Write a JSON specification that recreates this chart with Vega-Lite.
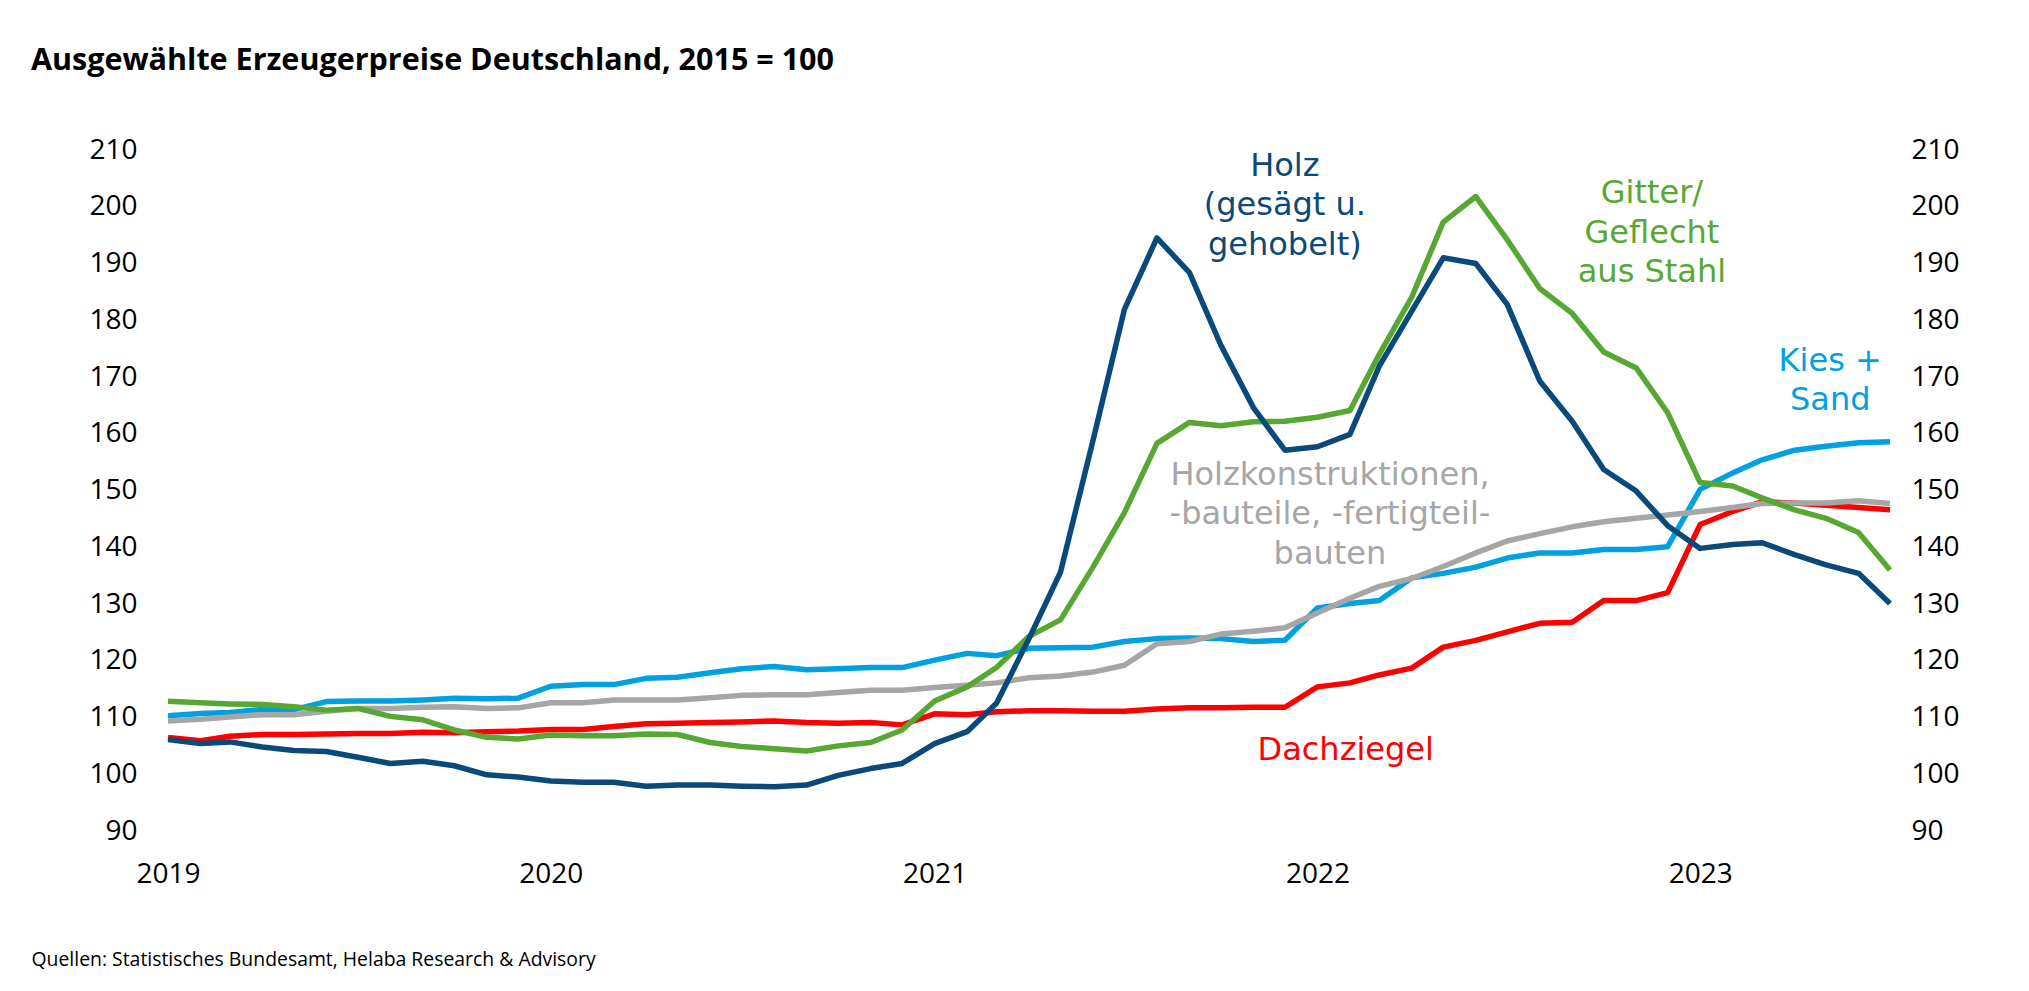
{
  "$schema": "https://vega.github.io/schema/vega-lite/v6.json",
  "autosize": {"type": "none"},
  "width": 1722,
  "height": 681,
  "padding": {"left": 168, "top": 150, "right": 139, "bottom": 160},
  "background": "white",
  "config": {"view": {"stroke": null}},
  "title": {
    "text": "Ausgewählte Erzeugerpreise Deutschland, 2015 = 100",
    "anchor": "start",
    "frame": "group",
    "dx": -137,
    "offset": 60,
    "font": "Open Sans",
    "fontSize": 30.5,
    "fontWeight": "bold",
    "color": "#000000"
  },
  "datasets": {
    "prices": [
      {"date": "2019-01-01", "Dachziegel": 106.5, "Kies": 110.3, "Holzkonstruktionen": 109.4, "Gitter": 112.85, "Holz": 106.1},
      {"date": "2019-02-01", "Dachziegel": 105.9, "Kies": 110.7, "Holzkonstruktionen": 109.7, "Gitter": 112.6, "Holz": 105.4},
      {"date": "2019-03-01", "Dachziegel": 106.7, "Kies": 110.9, "Holzkonstruktionen": 110.1, "Gitter": 112.4, "Holz": 105.7},
      {"date": "2019-04-01", "Dachziegel": 107.0, "Kies": 111.4, "Holzkonstruktionen": 110.5, "Gitter": 112.3, "Holz": 104.8},
      {"date": "2019-05-01", "Dachziegel": 107.0, "Kies": 111.4, "Holzkonstruktionen": 110.5, "Gitter": 111.9, "Holz": 104.2},
      {"date": "2019-06-01", "Dachziegel": 107.1, "Kies": 112.8, "Holzkonstruktionen": 111.1, "Gitter": 111.3, "Holz": 104.0},
      {"date": "2019-07-01", "Dachziegel": 107.2, "Kies": 112.9, "Holzkonstruktionen": 111.6, "Gitter": 111.6, "Holz": 103.0},
      {"date": "2019-08-01", "Dachziegel": 107.2, "Kies": 112.9, "Holzkonstruktionen": 111.6, "Gitter": 110.2, "Holz": 101.9},
      {"date": "2019-09-01", "Dachziegel": 107.4, "Kies": 113.1, "Holzkonstruktionen": 111.8, "Gitter": 109.6, "Holz": 102.3},
      {"date": "2019-10-01", "Dachziegel": 107.3, "Kies": 113.4, "Holzkonstruktionen": 111.9, "Gitter": 107.8, "Holz": 101.5},
      {"date": "2019-11-01", "Dachziegel": 107.5, "Kies": 113.3, "Holzkonstruktionen": 111.6, "Gitter": 106.5, "Holz": 99.9},
      {"date": "2019-12-01", "Dachziegel": 107.6, "Kies": 113.4, "Holzkonstruktionen": 111.7, "Gitter": 106.2, "Holz": 99.5},
      {"date": "2020-01-01", "Dachziegel": 107.9, "Kies": 115.5, "Holzkonstruktionen": 112.6, "Gitter": 106.9, "Holz": 98.8},
      {"date": "2020-02-01", "Dachziegel": 107.9, "Kies": 115.8, "Holzkonstruktionen": 112.6, "Gitter": 106.8, "Holz": 98.6},
      {"date": "2020-03-01", "Dachziegel": 108.4, "Kies": 115.8, "Holzkonstruktionen": 113.1, "Gitter": 106.8, "Holz": 98.6},
      {"date": "2020-04-01", "Dachziegel": 108.9, "Kies": 116.9, "Holzkonstruktionen": 113.1, "Gitter": 107.1, "Holz": 97.9},
      {"date": "2020-05-01", "Dachziegel": 109.0, "Kies": 117.1, "Holzkonstruktionen": 113.1, "Gitter": 107.0, "Holz": 98.1},
      {"date": "2020-06-01", "Dachziegel": 109.1, "Kies": 117.9, "Holzkonstruktionen": 113.5, "Gitter": 105.6, "Holz": 98.1},
      {"date": "2020-07-01", "Dachziegel": 109.2, "Kies": 118.6, "Holzkonstruktionen": 113.9, "Gitter": 104.9, "Holz": 97.9},
      {"date": "2020-08-01", "Dachziegel": 109.4, "Kies": 119.0, "Holzkonstruktionen": 114.0, "Gitter": 104.5, "Holz": 97.8},
      {"date": "2020-09-01", "Dachziegel": 109.1, "Kies": 118.4, "Holzkonstruktionen": 114.0, "Gitter": 104.1, "Holz": 98.1},
      {"date": "2020-10-01", "Dachziegel": 109.0, "Kies": 118.6, "Holzkonstruktionen": 114.4, "Gitter": 105.0, "Holz": 99.8},
      {"date": "2020-11-01", "Dachziegel": 109.1, "Kies": 118.8, "Holzkonstruktionen": 114.8, "Gitter": 105.6, "Holz": 101.0},
      {"date": "2020-12-01", "Dachziegel": 108.7, "Kies": 118.8, "Holzkonstruktionen": 114.8, "Gitter": 107.8, "Holz": 101.9},
      {"date": "2021-01-01", "Dachziegel": 110.65, "Kies": 120.1, "Holzkonstruktionen": 115.3, "Gitter": 112.9, "Holz": 105.4},
      {"date": "2021-02-01", "Dachziegel": 110.5, "Kies": 121.3, "Holzkonstruktionen": 115.7, "Gitter": 115.4, "Holz": 107.5},
      {"date": "2021-03-01", "Dachziegel": 111.0, "Kies": 120.9, "Holzkonstruktionen": 116.1, "Gitter": 118.8, "Holz": 112.5},
      {"date": "2021-04-01", "Dachziegel": 111.2, "Kies": 122.2, "Holzkonstruktionen": 117.0, "Gitter": 124.3, "Holz": 123.9},
      {"date": "2021-05-01", "Dachziegel": 111.2, "Kies": 122.3, "Holzkonstruktionen": 117.3, "Gitter": 127.2, "Holz": 135.6},
      {"date": "2021-06-01", "Dachziegel": 111.1, "Kies": 122.4, "Holzkonstruktionen": 118.0, "Gitter": 136.5, "Holz": 158.8},
      {"date": "2021-07-01", "Dachziegel": 111.1, "Kies": 123.4, "Holzkonstruktionen": 119.2, "Gitter": 146.1, "Holz": 181.9},
      {"date": "2021-08-01", "Dachziegel": 111.5, "Kies": 123.9, "Holzkonstruktionen": 123.0, "Gitter": 158.3, "Holz": 194.5},
      {"date": "2021-09-01", "Dachziegel": 111.7, "Kies": 124.0, "Holzkonstruktionen": 123.4, "Gitter": 162.0, "Holz": 188.4},
      {"date": "2021-10-01", "Dachziegel": 111.7, "Kies": 123.9, "Holzkonstruktionen": 124.7, "Gitter": 161.4, "Holz": 175.6},
      {"date": "2021-11-01", "Dachziegel": 111.8, "Kies": 123.4, "Holzkonstruktionen": 125.2, "Gitter": 162.1, "Holz": 164.6},
      {"date": "2021-12-01", "Dachziegel": 111.8, "Kies": 123.6, "Holzkonstruktionen": 125.8, "Gitter": 162.2, "Holz": 157.1},
      {"date": "2022-01-01", "Dachziegel": 115.4, "Kies": 129.3, "Holzkonstruktionen": 128.4, "Gitter": 162.9, "Holz": 157.7},
      {"date": "2022-02-01", "Dachziegel": 116.1, "Kies": 130.1, "Holzkonstruktionen": 131.0, "Gitter": 164.1, "Holz": 159.9},
      {"date": "2022-03-01", "Dachziegel": 117.5, "Kies": 130.6, "Holzkonstruktionen": 133.1, "Gitter": 174.0, "Holz": 171.9},
      {"date": "2022-04-01", "Dachziegel": 118.7, "Kies": 134.6, "Holzkonstruktionen": 134.5, "Gitter": 184.1, "Holz": 181.6},
      {"date": "2022-05-01", "Dachziegel": 122.4, "Kies": 135.4, "Holzkonstruktionen": 136.6, "Gitter": 197.3, "Holz": 191.0},
      {"date": "2022-06-01", "Dachziegel": 123.6, "Kies": 136.5, "Holzkonstruktionen": 139.0, "Gitter": 201.8, "Holz": 190.0},
      {"date": "2022-07-01", "Dachziegel": 125.1, "Kies": 138.1, "Holzkonstruktionen": 141.1, "Gitter": 194.2, "Holz": 182.8},
      {"date": "2022-08-01", "Dachziegel": 126.6, "Kies": 139.0, "Holzkonstruktionen": 142.4, "Gitter": 185.6, "Holz": 169.3},
      {"date": "2022-09-01", "Dachziegel": 126.8, "Kies": 139.0, "Holzkonstruktionen": 143.6, "Gitter": 181.2, "Holz": 162.2},
      {"date": "2022-10-01", "Dachziegel": 130.6, "Kies": 139.6, "Holzkonstruktionen": 144.5, "Gitter": 174.4, "Holz": 153.7},
      {"date": "2022-11-01", "Dachziegel": 130.6, "Kies": 139.6, "Holzkonstruktionen": 145.1, "Gitter": 171.6, "Holz": 149.9},
      {"date": "2022-12-01", "Dachziegel": 132.0, "Kies": 140.1, "Holzkonstruktionen": 145.7, "Gitter": 163.7, "Holz": 143.8},
      {"date": "2023-01-01", "Dachziegel": 144.0, "Kies": 150.2, "Holzkonstruktionen": 146.3, "Gitter": 151.4, "Holz": 139.8},
      {"date": "2023-02-01", "Dachziegel": 146.3, "Kies": 153.1, "Holzkonstruktionen": 147.0, "Gitter": 150.8, "Holz": 140.5},
      {"date": "2023-03-01", "Dachziegel": 148.0, "Kies": 155.4, "Holzkonstruktionen": 147.7, "Gitter": 148.7, "Holz": 140.8},
      {"date": "2023-04-01", "Dachziegel": 147.8, "Kies": 157.1, "Holzkonstruktionen": 147.8, "Gitter": 146.6, "Holz": 138.7},
      {"date": "2023-05-01", "Dachziegel": 147.4, "Kies": 157.8, "Holzkonstruktionen": 147.8, "Gitter": 145.1, "Holz": 136.9},
      {"date": "2023-06-01", "Dachziegel": 147.0, "Kies": 158.4, "Holzkonstruktionen": 148.2, "Gitter": 142.6, "Holz": 135.4},
      {"date": "2023-07-01", "Dachziegel": 146.6, "Kies": 158.6, "Holzkonstruktionen": 147.7, "Gitter": 136.0, "Holz": 130.1}
    ],
    "labels": [
      {"date": "2021-12-01", "value": 209.9, "series": "Holz", "label": "Holz\n(gesägt u.\ngehobelt)"},
      {"date": "2022-11-16", "value": 205.0, "series": "Gitter", "label": "Gitter/\nGeflecht\naus Stahl"},
      {"date": "2023-05-05", "value": 175.5, "series": "Kies", "label": "Kies +\nSand"},
      {"date": "2022-01-13", "value": 155.4, "series": "Holzkonstruktionen", "label": "Holzkonstruktionen,\n-bauteile, -fertigteil-\nbauten"},
      {"date": "2022-01-28", "value": 106.9, "series": "Dachziegel", "label": "Dachziegel"}
    ]
  },
  "resolve": {"axis": {"y": "independent", "x": "independent"}},
  "layer": [
    {
      "data": {"name": "prices"},
      "transform": [
        {"fold": ["Dachziegel", "Kies", "Holzkonstruktionen", "Gitter", "Holz"], "as": ["series", "value"]}
      ],
      "mark": {"type": "line", "strokeWidth": 5.5, "strokeJoin": "round", "strokeCap": "butt", "clip": false},
      "encoding": {
        "x": {
          "field": "date", "type": "temporal",
          "scale": {"type": "utc", "domain": [{"year": 2019, "month": 1, "date": 1, "utc": true}, {"year": 2023, "month": 7, "date": 1, "utc": true}], "nice": false},
          "axis": {
            "title": "Quellen: Statistisches Bundesamt, Helaba Research & Advisory",
            "titleFont": "Open Sans", "titleFontSize": 19.4, "titleFontWeight": "normal", "titleColor": "#000000",
            "titleAlign": "left", "titleAnchor": "start", "titleBaseline": "alphabetic",
            "titleX": -137, "titleY": 134,
            "format": "%Y", "tickCount": {"interval": "year", "step": 1},
            "labelFont": "Open Sans", "labelFontSize": 28, "labelColor": "#000000",
            "labelPadding": 29, "labelBaseline": "top", "labelFlush": false,
            "ticks": false, "tickSize": 0, "domain": false, "grid": false
          }
        },
        "y": {
          "field": "value", "type": "quantitative",
          "scale": {"domain": [90, 210], "nice": false, "zero": false},
          "axis": {
            "title": null, "orient": "left",
            "values": [90, 100, 110, 120, 130, 140, 150, 160, 170, 180, 190, 200, 210],
            "labelFont": "Open Sans", "labelFontSize": 28, "labelColor": "#000000",
            "labelPadding": 31, "ticks": false, "tickSize": 0, "domain": false, "grid": false
          }
        },
        "color": {
          "field": "series", "type": "nominal",
          "scale": {"domain": ["Dachziegel", "Kies", "Holzkonstruktionen", "Gitter", "Holz"], "range": ["#ff0000", "#00a0e1", "#a6a6a6", "#57a832", "#0a4a7a"]},
          "legend": null
        }
      }
    },
    {
      "data": {"name": "labels"},
      "mark": {"type": "text", "font": "DejaVu Sans", "fontSize": 32, "lineHeight": 39.5, "lineBreak": "\n", "align": "center", "baseline": "top"},
      "encoding": {
        "x": {"field": "date", "type": "temporal", "scale": {"type": "utc"}, "axis": null},
        "y": {
          "field": "value", "type": "quantitative",
          "axis": {
            "title": null, "orient": "right",
            "values": [90, 100, 110, 120, 130, 140, 150, 160, 170, 180, 190, 200, 210],
            "labelFont": "Open Sans", "labelFontSize": 28, "labelColor": "#000000",
            "labelPadding": 21, "ticks": false, "tickSize": 0, "domain": false, "grid": false
          }
        },
        "text": {"field": "label"},
        "color": {"field": "series", "type": "nominal", "legend": null}
      }
    }
  ]
}
